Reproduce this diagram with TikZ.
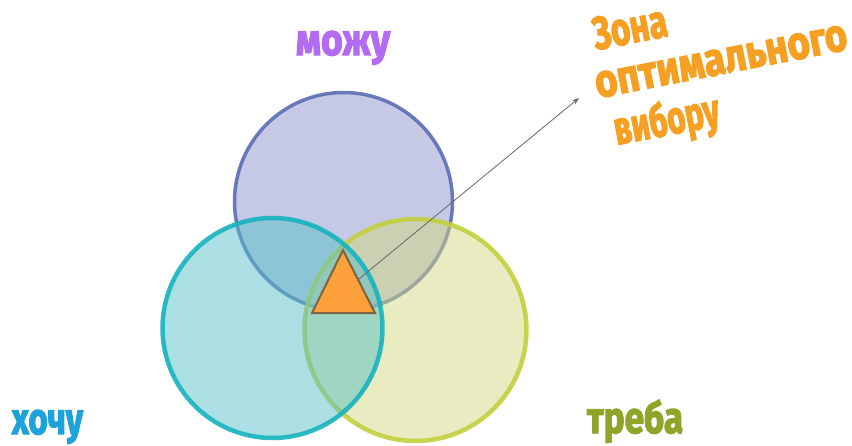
\documentclass[tikz,border=0pt]{standalone}
\usepackage{fontspec}
\setmainfont{Fira Sans}
\newfontfamily\impact{Fira Sans}[BoldFeatures={FakeBold=3}]
\usetikzlibrary{arrows.meta}
\definecolor{topfill}{HTML}{8B93CB}
\definecolor{topline}{HTML}{5B6DB4}
\definecolor{leftfill}{HTML}{57BFC7}
\definecolor{leftline}{HTML}{17B3BF}
\definecolor{rightfill}{HTML}{D3D781}
\definecolor{rightline}{HTML}{C3D03F}
\definecolor{trifill}{HTML}{FBA03B}
\definecolor{triline}{HTML}{7D6440}
\definecolor{txtpurple}{HTML}{B36BF2}
\definecolor{txtblue}{HTML}{1EA2DA}
\definecolor{txtgreen}{HTML}{8DA62A}
\definecolor{txtorange}{HTML}{F6A023}
\tikzset{
  setcircle/.style={circle, inner sep=0pt, outer sep=0pt, fill opacity=0.5, draw opacity=0.9},
  lbl/.style={font=\impact\bfseries\fontsize{44}{48}\selectfont, inner sep=0pt, outer sep=0pt},
  zlbl/.style={lbl, font=\impact\bfseries\fontsize{46}{50}\selectfont, text=txtorange, rotate=11, anchor=base west},
  pointer/.style={draw=black!60, line width=0.8pt, -{Stealth[length=7pt,width=5pt]}},
  zone/.style={fill=trifill, draw=triline, line width=2pt, line join=miter}
}
\begin{document}
\begin{tikzpicture}[x=1pt,y=-1pt]
\useasboundingbox (0,0) rectangle (852,445);
% circles
\node[setcircle, minimum size=218pt, fill=topfill, draw=topline, line width=3.5pt] (can) at (343.5,201.5) {};
\node[setcircle, minimum size=222pt, fill=rightfill, draw=rightline, line width=4.5pt] (need) at (415.5,330) {};
\node[setcircle, minimum size=220pt, fill=leftfill, draw=leftline, line width=4.5pt] (want) at (272.5,328) {};
% pointer
\coordinate (tri) at (343,292);
\coordinate (tip) at (579,98);
\draw[pointer] (tri) -- (tip);
% optimal zone triangle
\path[zone] (343,250) -- (312,313) -- (375,313) -- cycle;
% labels
\node[lbl, text=txtpurple, anchor=base] (lcan) at (343,55) {\scalebox{0.85}[1]{можу}};
\node[lbl, text=txtblue, anchor=base west] (lwant) at (12,434) {\scalebox{0.75}[1]{хочу}};
\node[lbl, text=txtgreen, anchor=base west] (lneed) at (587,433) {\scalebox{0.8}[1]{треба}};
\node[zlbl] (z1) at (596,50) {\scalebox{0.72}[1]{Зона}};
\node[zlbl] (z2) at (598,98) {\scalebox{0.83}[1]{оптимального}};
\node[zlbl] (z3) at (617,145) {\scalebox{0.68}[1]{вибору}};
\end{tikzpicture}
\end{document}
